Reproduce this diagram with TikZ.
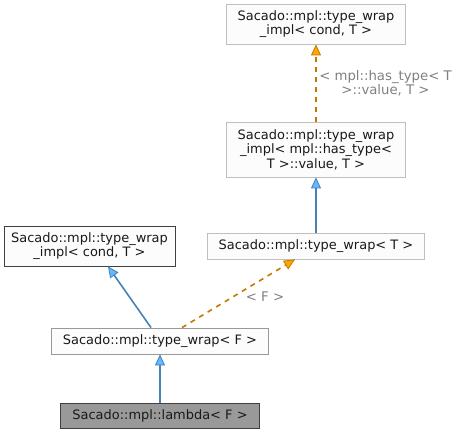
\documentclass[tikz,border=0pt]{standalone}
\usepackage{fontspec}
\setmainfont{DejaVu Sans}
\usetikzlibrary{arrows.meta}
\definecolor{nodefill}{HTML}{FBFCFB}
\definecolor{lightborder}{HTML}{BFBFBF}
\definecolor{midborder}{HTML}{999999}
\definecolor{darkborder}{HTML}{404040}
\definecolor{bluel}{HTML}{4682B4}
\definecolor{bluef}{HTML}{63B8FF}
\definecolor{orangel}{HTML}{C07A00}
\definecolor{orangef}{HTML}{FFA500}
\definecolor{labelgray}{HTML}{808080}
\begin{document}
\begin{tikzpicture}[x=1bp,y=-1bp,
  box/.style={draw, fill=nodefill, line width=0.8bp, inner sep=0pt, align=center,
    font=\fontsize{13.0}{14.6}\selectfont, text=black!90},
  inherit/.style={draw=bluel, line width=1.6bp,
    -{Triangle[length=11bp,width=10bp,fill=bluef,line width=0.8bp]}},
  templ/.style={draw=orangel, line width=1.6bp, dash pattern=on 5bp off 5bp,
    -{Triangle[length=11bp,width=10bp,fill=orangef,line width=0.8bp]}},
  elabel/.style={font=\fontsize{13.3}{13.6}\selectfont, text=labelgray, align=center, inner sep=0pt}]
\useasboundingbox (0,0) rectangle (456,435);
\node[box, draw=lightborder, minimum width=179bp, minimum height=40bp] (A) at (316,24)
  {Sacado::mpl::type\_wrap\\\_impl< cond, T >};
\node[box, draw=lightborder, minimum width=179bp, minimum height=55bp] (B) at (316,149.5)
  {Sacado::mpl::type\_wrap\\\_impl< mpl::has\_type<\\T >::value, T >};
\node[box, draw=lightborder, minimum width=217bp, minimum height=26bp] (C) at (316,246)
  {Sacado::mpl::type\_wrap< T >};
\node[box, draw=darkborder, minimum width=171bp, minimum height=40bp] (D) at (89.5,246)
  {Sacado::mpl::type\_wrap\\\_impl< cond, T >};
\node[box, draw=midborder, minimum width=217bp, minimum height=26bp] (E) at (160,341)
  {Sacado::mpl::type\_wrap< F >};
\node[box, draw=darkborder, fill={rgb,255:red,153;green,153;blue,153}, minimum width=199bp, minimum height=25bp] (F) at (160,415.5)
  {Sacado::mpl::lambda< F >};
\draw[templ] (B.north) -- (A.south);
\node[elabel] (LA) at (385.5,83.5) {< mpl::has\_type< T\\>::value, T >};
\draw[inherit] (C.north) -- (B.south);
\draw[inherit] ([xshift=-9bp]E.north) -- ([xshift=18.5bp]D.south);
\draw[templ] ([xshift=22bp]E.north) -- ([xshift=-21bp]C.south);
\node[elabel] (LC) at (265,297) {< F >};
\draw[inherit] (F.north) -- (E.south);
\end{tikzpicture}
\end{document}
